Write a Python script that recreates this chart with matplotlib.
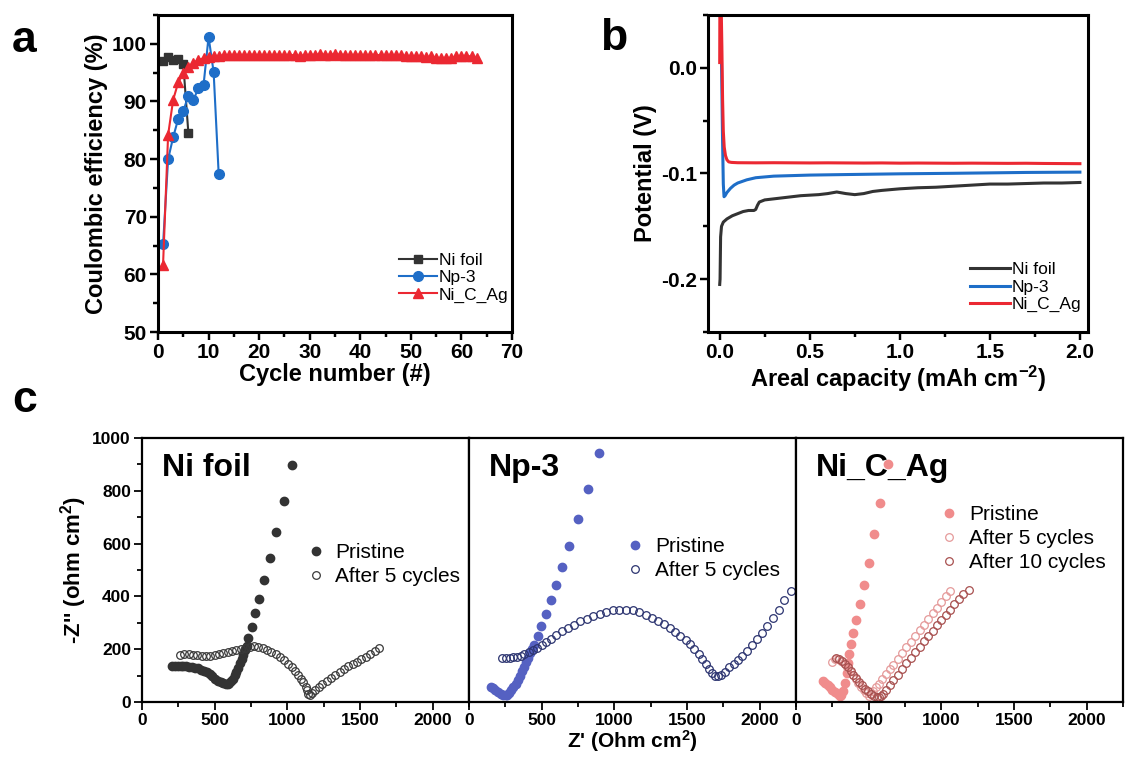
import numpy as np
import matplotlib
matplotlib.use('Agg')
import matplotlib.pyplot as plt
from matplotlib.ticker import MultipleLocator

plt.rcParams['font.family'] = ['Liberation Sans', 'DejaVu Sans']
plt.rcParams['mathtext.fontset'] = 'custom'
plt.rcParams['mathtext.rm'] = 'Liberation Sans:bold'
plt.rcParams['mathtext.bf'] = 'Liberation Sans:bold'
plt.rcParams['mathtext.it'] = 'Liberation Sans:bold'

# ── (a) Coulombic efficiency ────────────────────────────────────────────────
cyc_nifoil = [1, 2, 3, 4, 5, 6]
ce_nifoil = [97.0, 97.7, 97.2, 97.3, 96.5, 84.6]
cyc_np3 = [1, 2, 3, 4, 5, 6, 7, 8, 9, 10, 11, 12]
ce_np3 = [65.2, 80.0, 83.8, 87.0, 88.3, 91.0, 90.2, 92.4, 92.8, 101.2, 95.1, 77.4]
cyc_ncag = list(range(1, 64))
ce_ncag = [61.7, 84.2, 90.3, 93.3, 95.0, 96.0, 96.7, 97.2, 97.5, 97.7,
           97.8, 97.9, 98.0, 98.0, 98.1, 98.1, 98.0, 98.1, 98.1, 98.0,
           98.1, 98.0, 98.1, 98.1, 98.0, 98.1, 98.0, 97.9, 98.0, 98.1,
           98.1, 98.2, 98.1, 98.1, 98.2, 98.1, 98.1, 98.0, 98.1, 98.1,
           98.0, 98.1, 98.1, 98.0, 98.0, 98.1, 98.0, 98.0, 97.9, 97.8,
           97.8, 97.8, 97.7, 97.8, 97.6, 97.5, 97.6, 97.5, 97.8, 97.9,
           97.9, 97.8, 97.5]

# ── (b) voltage profiles ────────────────────────────────────────────────────
cap_nifoil = [0.0, 0.002, 0.005, 0.01, 0.02, 0.04, 0.07, 0.1, 0.13, 0.16, 0.19,
              0.2, 0.21, 0.22, 0.25, 0.3, 0.35, 0.4, 0.45, 0.5, 0.55, 0.6, 0.65,
              0.7, 0.75, 0.8, 0.85, 0.9, 1.0, 1.1, 1.2, 1.3, 1.4, 1.5, 1.6, 1.7,
              1.8, 1.9, 2.0]
pot_nifoil = [-0.205, -0.2, -0.16, -0.15, -0.146, -0.143, -0.14, -0.138, -0.136,
              -0.135, -0.135, -0.134, -0.13, -0.127, -0.125, -0.124, -0.123,
              -0.122, -0.121, -0.1205, -0.12, -0.119, -0.1175, -0.119, -0.12,
              -0.119, -0.117, -0.116, -0.1145, -0.1135, -0.113, -0.112, -0.111,
              -0.110, -0.110, -0.1095, -0.109, -0.109, -0.1085]
cap_np3 = [0.008, 0.012, 0.016, 0.02, 0.024, 0.03, 0.04, 0.06, 0.08, 0.1, 0.15,
           0.2, 0.3, 0.4, 0.5, 0.7, 1.0, 1.3, 1.5, 1.7, 2.0]
pot_np3 = [0.03, -0.02, -0.07, -0.11, -0.122, -0.121, -0.118, -0.114, -0.111,
           -0.109, -0.106, -0.104, -0.1025, -0.102, -0.1015, -0.101, -0.1003,
           -0.0998, -0.0994, -0.099, -0.0987]
cap_ncag = [0.0, 0.001, 0.008, 0.012, 0.016, 0.02, 0.025, 0.032, 0.04, 0.05,
            0.065, 0.1, 0.2, 0.3, 0.4, 0.5, 0.6, 0.7, 0.8, 0.9, 1.0, 1.1, 1.2,
            1.3, 1.4, 1.5, 1.6, 1.7, 1.8, 1.9, 2.0]
pot_ncag = [0.005, 0.06, 0.06, 0.02, -0.03, -0.06, -0.075, -0.083, -0.087,
            -0.089, -0.0895, -0.0898, -0.0899, -0.0898, -0.0899, -0.09, -0.0899,
            -0.09, -0.0901, -0.09, -0.0902, -0.0901, -0.0902, -0.0903, -0.0902,
            -0.0903, -0.0904, -0.0903, -0.0905, -0.0906, -0.0907]

# ── (c) EIS Nyquist ─────────────────────────────────────────────────────────
nf_pri_re = [205, 225, 245, 265, 285, 305, 325, 345, 365, 385, 405, 425, 445,
             465, 485, 505, 525, 545, 560, 575, 590, 602, 614, 626, 638, 650,
             662, 674, 686, 698, 710, 722, 731, 757, 779, 807, 837, 880, 921,
             974, 1031]
nf_pri_im = [137, 138, 138, 137, 136, 135, 134, 132, 130, 127, 123, 118, 112,
             105, 97, 89, 81, 75, 71, 69, 69, 72, 79, 89, 101, 115, 130, 146,
             162, 179, 196, 214, 244, 285, 338, 392, 463, 544, 644, 761, 899]
nf_a5_re = [261, 290, 320, 350, 380, 410, 440, 470, 500, 530, 560, 590, 620,
            650, 680, 710, 740, 770, 800, 830, 860, 890, 920, 950, 980, 1005,
            1030, 1055, 1075, 1095, 1110, 1125, 1135, 1145, 1155, 1170, 1190,
            1215, 1240, 1270, 1300, 1330, 1360, 1390, 1420, 1450, 1480, 1510,
            1540, 1570, 1600, 1630]
nf_a5_im = [178, 180, 180, 178, 177, 176, 174, 176, 178, 181, 184, 188, 192,
            196, 201, 206, 210, 211, 209, 205, 198, 190, 181, 170, 158, 145,
            131, 117, 103, 88, 74, 58, 44, 32, 26, 35, 46, 55, 68, 80, 92, 104,
            115, 125, 135, 143, 152, 161, 171, 181, 192, 204]

np_pri_re = [149, 165, 182, 200, 218, 236, 252, 264, 278, 292, 306, 320, 334,
             348, 362, 376, 390, 404, 418, 432, 446, 475, 498, 530, 562, 601,
             642, 690, 747, 818, 894]
np_pri_im = [58, 52, 45, 38, 31, 27, 25, 27, 34, 44, 56, 69, 84, 100, 117, 134,
             151, 168, 184, 200, 216, 251, 289, 334, 385, 444, 512, 592, 692,
             808, 943]
np_a5_re = [229, 255, 280, 305, 330, 355, 380, 410, 440, 470, 500, 530, 565,
            600, 640, 680, 720, 765, 810, 855, 900, 945, 990, 1035, 1080, 1125,
            1170, 1215, 1260, 1300, 1340, 1380, 1420, 1455, 1490, 1520, 1550,
            1580, 1605, 1630, 1650, 1670, 1690, 1710, 1735, 1760, 1790, 1820,
            1850, 1880, 1910, 1945, 1980, 2015, 2050, 2090, 2130, 2170, 2215]
np_a5_im = [166, 167, 168, 170, 172, 176, 181, 188, 196, 205, 215, 226, 240,
            255, 268, 280, 292, 305, 316, 326, 335, 342, 347, 350, 350, 347,
            340, 331, 320, 308, 295, 281, 266, 251, 235, 218, 200, 182, 163,
            143, 125, 110, 99, 97, 103, 112, 131, 145, 160, 176, 193, 215, 238,
            263, 289, 318, 350, 386, 419]

ag_pri_re = [183, 200, 217, 234, 251, 268, 286, 300, 312, 325, 338, 350, 359,
             366, 379, 395, 416, 441, 469, 499, 538, 577, 632]
ag_pri_im = [81, 73, 65, 56, 46, 38, 31, 24, 28, 40, 72, 110, 148, 181, 221,
             261, 311, 373, 442, 528, 635, 753, 903]
ag_a5_re = [250, 270, 290, 310, 330, 350, 370, 390, 410, 430, 450, 470, 485,
            500, 515, 530, 550, 570, 595, 620, 645, 670, 700, 730, 760, 790,
            820, 850, 880, 910, 940, 970, 1000, 1030, 1060]
ag_a5_im = [150, 162, 163, 157, 146, 133, 118, 103, 88, 73, 58, 44, 33, 24, 30,
            42, 56, 70, 88, 106, 124, 142, 164, 185, 207, 228, 250, 271, 293,
            314, 336, 357, 379, 401, 421]
ag_a10_re = [276, 295, 315, 335, 355, 375, 395, 415, 435, 455, 475, 495, 515,
             535, 555, 570, 585, 600, 620, 645, 670, 700, 730, 760, 790, 820,
             850, 880, 910, 940, 970, 1000, 1030, 1060, 1090, 1120, 1150, 1190]
ag_a10_im = [165, 163, 155, 145, 132, 118, 104, 90, 76, 63, 51, 40, 31, 24, 20,
             18, 22, 30, 45, 63, 82, 103, 124, 146, 167, 188, 210, 230, 250,
             270, 290, 310, 330, 350, 370, 390, 408, 425]

C_BLACK = '#333333'
C_BLUE = '#1e6ec8'
C_RED = '#eb2832'

W, H = 1126, 757
fig = plt.figure(figsize=(W / 100, H / 100), dpi=100, facecolor='white')


def box(l, t, r, b):
    return [l / W, 1 - b / H, (r - l) / W, (b - t) / H]


def style(ax, lw=2.2, size=14):
    for s in ax.spines.values():
        s.set_linewidth(lw)
    ax.tick_params(which='major', direction='out', length=6, width=lw * 0.8,
                   labelsize=size, pad=2)
    ax.tick_params(which='minor', direction='out', length=3.5, width=lw * 0.8)
    for lab in ax.get_xticklabels() + ax.get_yticklabels():
        lab.set_fontweight('bold')


# ── Panel a ────────────────────────────────────────────────────────────────
ax = fig.add_axes(box(158, 15, 512, 332))
ax.plot(cyc_nifoil, ce_nifoil, '-s', color=C_BLACK, ms=6, lw=1.5, label='Ni foil')
ax.plot(cyc_np3, ce_np3, '-o', color=C_BLUE, ms=7, lw=1.5, label='Np-3')
ax.plot(cyc_ncag, ce_ncag, '-^', color=C_RED, ms=7, lw=1.5, label='Ni_C_Ag')
ax.set_xlim(0, 70)
ax.set_ylim(50, 105)
ax.xaxis.set_major_locator(MultipleLocator(10))
ax.xaxis.set_minor_locator(MultipleLocator(5))
ax.yaxis.set_major_locator(MultipleLocator(10))
ax.yaxis.set_minor_locator(MultipleLocator(5))
style(ax, size=15)
ax.set_xlabel('Cycle number (#)', fontsize=17, fontweight='bold', labelpad=1)
ax.set_ylabel('Coulombic efficiency (%)', fontsize=17, fontweight='bold', labelpad=3)
ax.legend(loc='upper left', bbox_to_anchor=(0.68, 0.25), frameon=False,
          fontsize=12.5, handlelength=2.2, handletextpad=0.1, labelspacing=0.12,
          borderpad=0, borderaxespad=0)

# ── Panel b ────────────────────────────────────────────────────────────────
ax = fig.add_axes(box(708, 15, 1088, 332))
ax.plot(cap_nifoil, pot_nifoil, color=C_BLACK, lw=2.2, label='Ni foil')
ax.plot(cap_np3, pot_np3, color=C_BLUE, lw=2.2, label='Np-3')
ax.plot(cap_ncag, pot_ncag, color=C_RED, lw=2.2, label='Ni_C_Ag')
ax.set_xlim(-0.065, 2.045)
ax.set_ylim(-0.25, 0.05)
ax.xaxis.set_minor_locator(MultipleLocator(0.25))
ax.yaxis.set_minor_locator(MultipleLocator(0.05))
ax.set_yticks([0.0, -0.1, -0.2])
ax.set_yticklabels(['0.0', '-0.1', '-0.2'])
ax.set_xticks([0.0, 0.5, 1.0, 1.5, 2.0])
ax.set_xticklabels(['0.0', '0.5', '1.0', '1.5', '2.0'])
style(ax, size=15)
ax.set_xlabel('Areal capacity (mAh cm$^{\u002d2}$)', fontsize=17, fontweight='bold', labelpad=1)
ax.set_ylabel('Potential (V)', fontsize=17, fontweight='bold', labelpad=3)
ax.legend(loc='upper left', bbox_to_anchor=(0.69, 0.22), frameon=False,
          fontsize=12.5, handlelength=2.3, handletextpad=0.1, labelspacing=0.12,
          borderpad=0, borderaxespad=0)

# ── Panel c ────────────────────────────────────────────────────────────────
panels = [
    ('Ni foil', [(nf_pri_re, nf_pri_im, 'Pristine', C_BLACK, True),
                 (nf_a5_re, nf_a5_im, 'After 5 cycles', '#3a3a3a', False)],
     (0.499, 0.602)),
    ('Np-3', [(np_pri_re, np_pri_im, 'Pristine', '#5561c2', True),
              (np_a5_re, np_a5_im, 'After 5 cycles', '#2c3470', False)],
     (0.477, 0.625)),
    ('Ni_C_Ag', [(ag_pri_re, ag_pri_im, 'Pristine', '#f08c8c', True),
                 (ag_a5_re, ag_a5_im, 'After 5 cycles', '#e59a9a', False),
                 (ag_a10_re, ag_a10_im, 'After 10 cycles', '#a8504f', False)],
     (0.437, 0.746)),
]
lefts = [142, 469, 796]
for i, (title, series, leg_pos) in enumerate(panels):
    ax = fig.add_axes(box(lefts[i], 438, lefts[i] + 327, 702))
    for re, im, lab, col, filled in series:
        if filled:
            ax.plot(re, im, 'o', ms=6, color=col, mec=col, label=lab)
        else:
            ax.plot(re, im, 'o', ms=5.5, mfc='none', mec=col, mew=0.9, label=lab)
    ax.set_xlim(0, 2250)
    ax.set_ylim(0, 1000)
    ax.xaxis.set_minor_locator(MultipleLocator(250))
    ax.yaxis.set_major_locator(MultipleLocator(200))
    ax.yaxis.set_minor_locator(MultipleLocator(100))
    ax.set_xticks([0, 500, 1000, 1500, 2000])
    style(ax, lw=1.6, size=12.5)
    if i > 0:
        ax.tick_params(axis='y', which='both', left=False, labelleft=False)
    ax.text(0.06, 0.885, title, transform=ax.transAxes, fontsize=23,
            fontweight='bold', va='center', ha='left')
    ax.legend(loc='upper left', bbox_to_anchor=leg_pos, frameon=False,
              fontsize=15, handlelength=1.0, handletextpad=0.45,
              labelspacing=0.25, borderpad=0, borderaxespad=0)
    if i == 0:
        ax.set_ylabel("-Z'' (ohm cm$^2$)", fontsize=16, fontweight='bold', labelpad=2)
    if i == 1:
        ax.set_xlabel("Z' (Ohm cm$^2$)", fontsize=15, fontweight='bold', labelpad=0)

# panel letters
fig.text(12 / W, 1 - 52 / H, 'a', fontsize=32, fontweight='bold', va='baseline')
fig.text(600 / W, 1 - 50 / H, 'b', fontsize=32, fontweight='bold', va='baseline')
fig.text(12 / W, 1 - 412 / H, 'c', fontsize=32, fontweight='bold', va='baseline')

fig.savefig('out.png', dpi=100, facecolor='white')
